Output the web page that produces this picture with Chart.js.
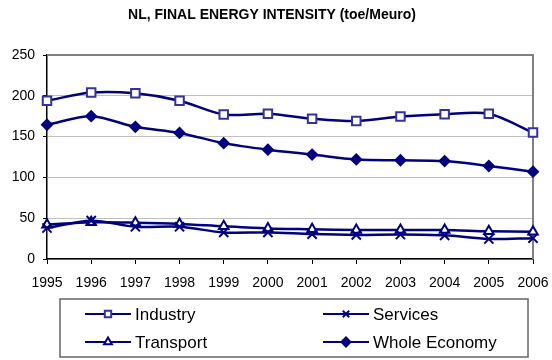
<!DOCTYPE html>
<html>
<head>
<meta charset="utf-8">
<script src="https://cdn.jsdelivr.net/npm/chart.js@4/dist/chart.umd.min.js"></script>
<style>
  body { margin: 0; background: #fff; }
  canvas { display: block; }
</style>
</head>
<body>
<canvas id="chart" width="552" height="360"></canvas>
<script>
const years = ["1995","1996","1997","1998","1999","2000","2001","2002","2003","2004","2005","2006"]
const industry = [194, 204, 203, 194, 177, 178, 172, 169, 174.5, 177.5, 178, 155]
const services = [38, 47, 39.5, 39.5, 32.5, 32.5, 30.5, 29.5, 30, 29, 24.5, 25.5]
const transport = [42, 45, 44.5, 43, 40, 37.5, 36.5, 35.5, 35.5, 35.5, 34, 33.5]
const wholeEconomy = [164.5, 175, 162, 154.5, 142, 134, 128, 122, 121, 120, 114, 107]

const titleText = "NL, FINAL ENERGY INTENSITY (toe/Meuro)"
const navy = "#000080"
const font = "Arial, 'Liberation Sans', sans-serif"

// one dataset per series, all navy lines with different markers
const serie = (label, data, style, fill, border, radius) => ({
    label: label,
    data: data,
    borderColor: navy,
    borderWidth: 2.5,
    tension: 0.3,
    pointStyle: style,
    pointRadius: radius,
    pointBorderWidth: 2,
    pointBackgroundColor: fill,
    pointBorderColor: border
})

const datasets = [
    serie("Industry", industry, "rect", "#fff", "#333399", 6),
    serie("Services", services, "crossRot", navy, navy, 6.5),
    serie("Transport", transport, "triangle", "#fff", navy, 5.5),
    serie("Whole Economy", wholeEconomy, "rectRot", navy, navy, 5)
]

// title, gray frame of the plot area and the boxed legend
const decor = {
    id: "decor",
    beforeDatasetsDraw(chart) {
        const {ctx, chartArea: a} = chart
        ctx.save()
        ctx.strokeStyle = "#808080"
        ctx.lineWidth = 2
        ctx.beginPath()
        ctx.moveTo(a.left, a.top)
        ctx.lineTo(a.right, a.top)
        ctx.lineTo(a.right, a.bottom)
        ctx.stroke()
        ctx.restore()
    },
    afterDraw(chart) {
        const ctx = chart.ctx
        ctx.save()
        ctx.fillStyle = "#000"
        ctx.font = "bold 14px " + font
        ctx.textAlign = "center"
        ctx.textBaseline = "middle"
        ctx.fillText(titleText, 272, 15)

        ctx.strokeStyle = "#666"
        ctx.lineWidth = 1.5
        ctx.strokeRect(60, 299, 468, 58)

        const spots = [[85, 314], [323, 314], [85, 342], [323, 342]]
        ctx.font = "17px " + font
        ctx.textAlign = "left"
        datasets.forEach((ds, i) => {
            const [x, y] = spots[i]
            ctx.strokeStyle = navy
            ctx.lineWidth = 2
            ctx.beginPath()
            ctx.moveTo(x, y)
            ctx.lineTo(x + 46, y)
            ctx.stroke()
            ctx.fillStyle = ds.pointBackgroundColor
            ctx.strokeStyle = ds.pointBorderColor
            if (Chart.helpers && Chart.helpers.drawPoint) {
                Chart.helpers.drawPoint(ctx, {pointStyle: ds.pointStyle, radius: 4.5, rotation: 0, borderWidth: 2}, x + 23, y)
            }
            ctx.fillStyle = "#000"
            ctx.fillText(ds.label, x + 50, y + 1)
        })
        ctx.restore()
    }
}

new Chart(document.getElementById("chart"), {
    type: "line",
    data: {labels: years, datasets: datasets},
    options: {
        responsive: false,
        animation: false,
        layout: {padding: {top: 55, right: 19, left: 0, bottom: 0}},
        plugins: {
            legend: {display: false},
            title: {display: false},
            tooltip: {enabled: false}
        },
        scales: {
            x: {
                offset: false,
                grid: {drawOnChartArea: false, color: "#000", tickLength: 5},
                border: {color: "#000", width: 1.5},
                ticks: {font: {family: font, size: 14}, color: "#000", padding: 11, maxRotation: 0, autoSkip: false},
                afterFit: s => {
                    s.height = 101
                    s.paddingLeft = 0
                    s.paddingRight = 0
                }
            },
            y: {
                min: 0,
                max: 250,
                ticks: {stepSize: 50, font: {family: font, size: 14}, color: "#000", padding: 8},
                grid: {color: "#c0c0c0", tickColor: "#000", tickLength: 4},
                border: {color: "#000", width: 1.5},
                afterFit: s => { s.width = 47 }
            }
        }
    },
    plugins: [decor]
})
</script>
</body>
</html>
